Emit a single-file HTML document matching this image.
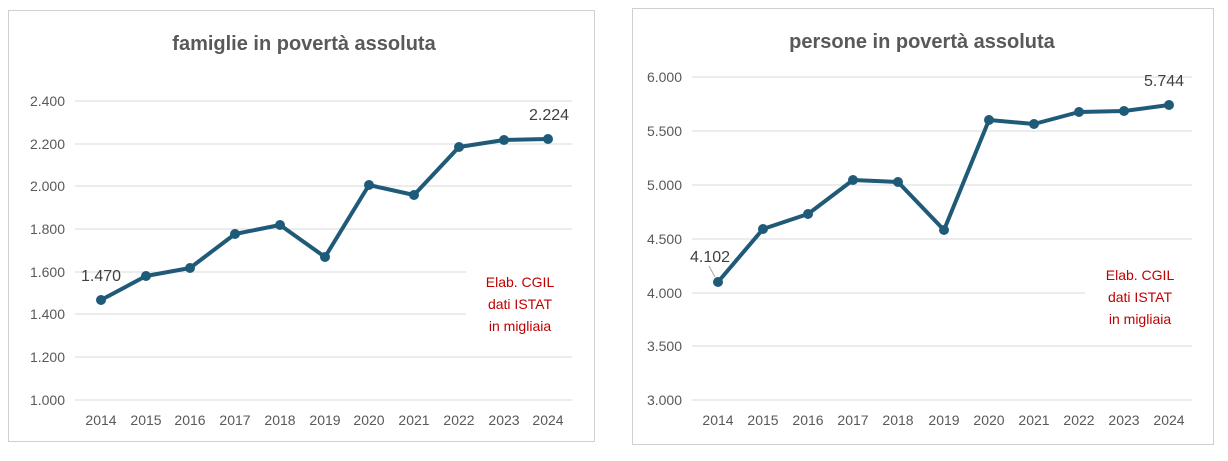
<!DOCTYPE html>
<html><head><meta charset="utf-8"><style>
body{margin:0;background:#fff;}
svg text{font-family:"Liberation Sans",sans-serif;}
</style></head><body>
<svg width="1228" height="456" xmlns="http://www.w3.org/2000/svg">
<rect x="0" y="0" width="1228" height="456" fill="#fff"/>
<!-- LEFT -->
<rect x="8.5" y="10.5" width="586" height="431" fill="#fff" stroke="#d0d0d0"/>
<text x="304" y="50" text-anchor="middle" font-size="20" font-weight="bold" fill="#595959">famiglie in povertà assoluta</text>
<g stroke="#d9d9d9" stroke-width="1">
<line x1="75" x2="572" y1="101" y2="101"/><line x1="75" x2="572" y1="144" y2="144"/>
<line x1="75" x2="572" y1="186" y2="186"/><line x1="75" x2="572" y1="229" y2="229"/>
<line x1="75" x2="572" y1="272" y2="272"/><line x1="75" x2="572" y1="314" y2="314"/>
<line x1="75" x2="572" y1="357" y2="357"/><line x1="75" x2="572" y1="400" y2="400"/>
</g>
<rect x="466" y="262" width="107" height="80" fill="#fff"/>
<g font-size="14" fill="#595959" text-anchor="end">
<text x="65" y="106">2.400</text><text x="65" y="149">2.200</text><text x="65" y="191">2.000</text>
<text x="65" y="234">1.800</text><text x="65" y="277">1.600</text><text x="65" y="319">1.400</text>
<text x="65" y="362">1.200</text><text x="65" y="405">1.000</text>
</g>
<g font-size="14" fill="#595959" text-anchor="middle">
<text x="101" y="425">2014</text><text x="146" y="425">2015</text><text x="190" y="425">2016</text>
<text x="235" y="425">2017</text><text x="280" y="425">2018</text><text x="325" y="425">2019</text>
<text x="369" y="425">2020</text><text x="414" y="425">2021</text><text x="459" y="425">2022</text>
<text x="504" y="425">2023</text><text x="548" y="425">2024</text>
</g>
<polyline fill="none" stroke="#1f5a78" stroke-width="4" stroke-linejoin="round" points="101,300 146,276 190,268 235,234 280,225 325,257 369,185 414,195 459,147 504,140 548,139"/>
<g fill="#1f5a78">
<circle cx="101" cy="300" r="5"/><circle cx="146" cy="276" r="5"/><circle cx="190" cy="268" r="5"/><circle cx="235" cy="234" r="5"/><circle cx="280" cy="225" r="5"/><circle cx="325" cy="257" r="5"/><circle cx="369" cy="185" r="5"/><circle cx="414" cy="195" r="5"/><circle cx="459" cy="147" r="5"/><circle cx="504" cy="140" r="5"/><circle cx="548" cy="139" r="5"/>
</g>
<text x="101" y="281" text-anchor="middle" font-size="16" fill="#404040">1.470</text>
<text x="549" y="120" text-anchor="middle" font-size="16" fill="#404040">2.224</text>
<g font-size="14" fill="#c00000" text-anchor="middle">
<text x="520" y="287">Elab. CGIL</text><text x="520" y="309">dati ISTAT</text><text x="520" y="331">in migliaia</text>
</g>
<!-- RIGHT -->
<rect x="632.5" y="8.5" width="581" height="436" fill="#fff" stroke="#d0d0d0"/>
<text x="922" y="48" text-anchor="middle" font-size="20" font-weight="bold" fill="#595959">persone in povertà assoluta</text>
<g stroke="#d9d9d9" stroke-width="1">
<line x1="692" x2="1192" y1="77" y2="77"/><line x1="692" x2="1192" y1="131" y2="131"/>
<line x1="692" x2="1192" y1="185" y2="185"/><line x1="692" x2="1192" y1="239" y2="239"/>
<line x1="692" x2="1192" y1="293" y2="293"/><line x1="692" x2="1192" y1="346" y2="346"/>
<line x1="692" x2="1192" y1="400" y2="400"/>
</g>
<rect x="1085" y="258" width="108" height="74" fill="#fff"/>
<g font-size="14" fill="#595959" text-anchor="end">
<text x="682" y="82">6.000</text><text x="682" y="136">5.500</text><text x="682" y="190">5.000</text>
<text x="682" y="244">4.500</text><text x="682" y="298">4.000</text><text x="682" y="351">3.500</text>
<text x="682" y="405">3.000</text>
</g>
<g font-size="14" fill="#595959" text-anchor="middle">
<text x="718" y="425">2014</text><text x="763" y="425">2015</text><text x="808" y="425">2016</text>
<text x="853" y="425">2017</text><text x="898" y="425">2018</text><text x="944" y="425">2019</text>
<text x="989" y="425">2020</text><text x="1034" y="425">2021</text><text x="1079" y="425">2022</text>
<text x="1124" y="425">2023</text><text x="1169" y="425">2024</text>
</g>
<line x1="709" y1="266" x2="715" y2="277" stroke="#a6a6a6" stroke-width="1"/>
<polyline fill="none" stroke="#1f5a78" stroke-width="4" stroke-linejoin="round" points="718,282 763,229 808,214 853,180 898,182 944,230 989,120 1034,124 1079,112 1124,111 1169,105"/>
<g fill="#1f5a78">
<circle cx="718" cy="282" r="5"/><circle cx="763" cy="229" r="5"/><circle cx="808" cy="214" r="5"/><circle cx="853" cy="180" r="5"/><circle cx="898" cy="182" r="5"/><circle cx="944" cy="230" r="5"/><circle cx="989" cy="120" r="5"/><circle cx="1034" cy="124" r="5"/><circle cx="1079" cy="112" r="5"/><circle cx="1124" cy="111" r="5"/><circle cx="1169" cy="105" r="5"/>
</g>
<text x="710" y="262" text-anchor="middle" font-size="16" fill="#404040">4.102</text>
<text x="1164" y="86" text-anchor="middle" font-size="16" fill="#404040">5.744</text>
<g font-size="14" fill="#c00000" text-anchor="middle">
<text x="1140" y="280">Elab. CGIL</text><text x="1140" y="302">dati ISTAT</text><text x="1140" y="324">in migliaia</text>
</g>
</svg>
</body></html>
